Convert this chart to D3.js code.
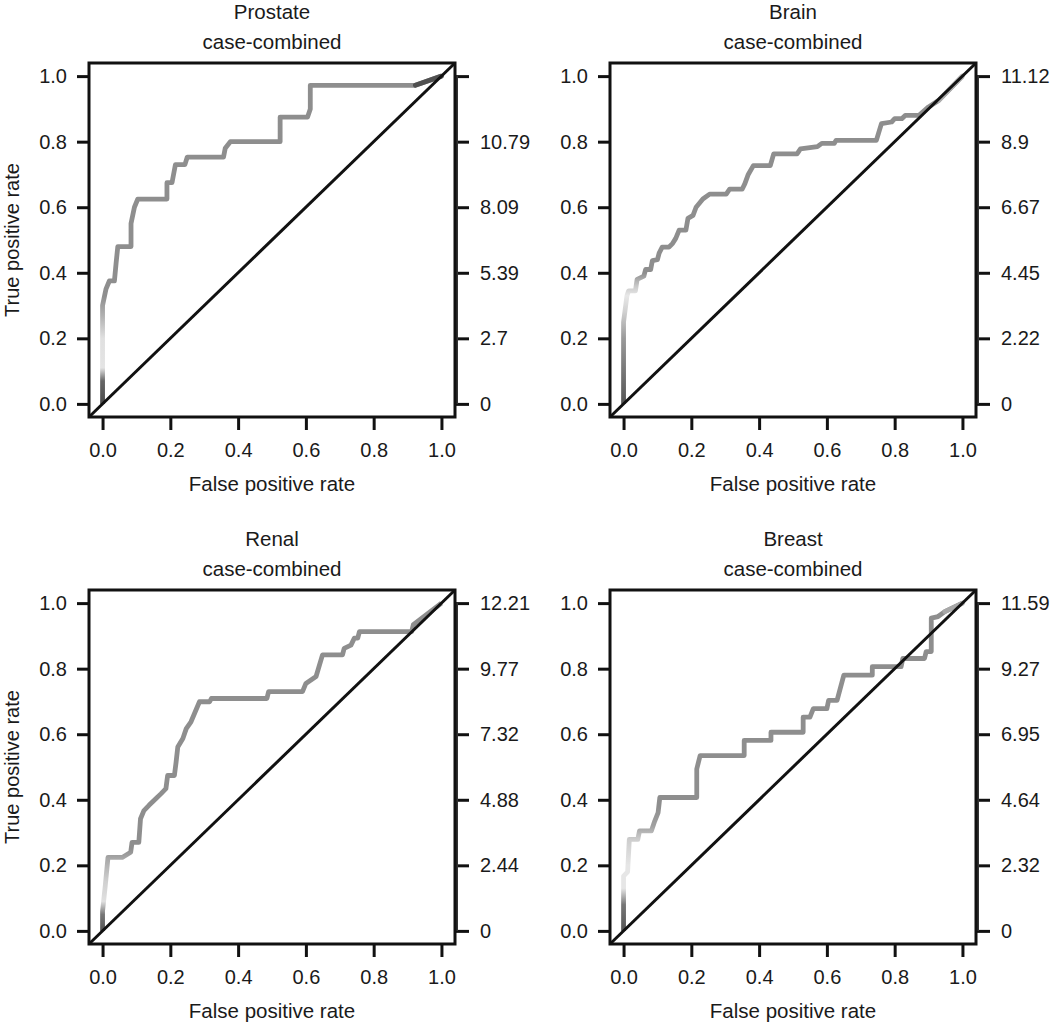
<!DOCTYPE html>
<html><head><meta charset="utf-8">
<script src="https://cdn.jsdelivr.net/npm/d3@7"></script>
<style>
body{margin:0;background:#fff}
svg{display:block}
text{font-family:"Liberation Sans",Arial,Helvetica,sans-serif;fill:#1a1a1a}
</style>
</head><body>
<svg id="chart" width="1050" height="1023"></svg>
<script>
// ---------- data ----------
const panelNames = ["Prostate", "Brain", "Renal", "Breast"];
const subtitle = "case-combined";
const xLabel = "False positive rate";
const yLabel = "True positive rate";
const rateTicks = [0, 0.2, 0.4, 0.6, 0.8, 1.0];

const prostateCutoffLabels = ["0", "2.7", "5.39", "8.09", "10.79", ""];
const brainCutoffLabels    = ["0", "2.22", "4.45", "6.67", "8.9", "11.12"];
const renalCutoffLabels    = ["0", "2.44", "4.88", "7.32", "9.77", "12.21"];
const breastCutoffLabels   = ["0", "2.32", "4.64", "6.95", "9.27", "11.59"];

// [false positive rate, true positive rate]
const prostateROC = [[0,0],[0,0.30],[0.01,0.35],[0.02,0.375],[0.035,0.375],[0.04,0.43],[0.045,0.48],[0.084,0.48],
  [0.084,0.55],[0.094,0.60],[0.104,0.625],[0.19,0.625],[0.19,0.675],[0.205,0.675],[0.215,0.73],[0.243,0.73],
  [0.25,0.753],[0.357,0.753],[0.362,0.78],[0.377,0.80],[0.524,0.80],[0.524,0.875],[0.605,0.875],[0.613,0.90],
  [0.613,0.972],[0.923,0.972],[1,1]];
const brainROC = [[0,0],[0,0.25],[0.01,0.33],[0.015,0.345],[0.035,0.345],[0.04,0.38],[0.06,0.39],[0.065,0.41],
  [0.08,0.41],[0.085,0.437],[0.1,0.44],[0.105,0.46],[0.114,0.478],[0.134,0.478],[0.145,0.49],[0.154,0.505],
  [0.164,0.53],[0.184,0.53],[0.19,0.566],[0.205,0.575],[0.214,0.6],[0.234,0.625],[0.254,0.64],[0.303,0.64],
  [0.313,0.655],[0.35,0.655],[0.358,0.672],[0.368,0.70],[0.383,0.727],[0.433,0.727],[0.443,0.763],[0.512,0.763],
  [0.522,0.778],[0.572,0.785],[0.585,0.795],[0.622,0.795],[0.627,0.804],[0.746,0.804],[0.761,0.855],[0.791,0.86],
  [0.80,0.87],[0.821,0.87],[0.831,0.88],[0.871,0.88],[0.9,0.906],[0.93,0.926],[1,1]];
const renalROC = [[0,0],[0,0.06],[0.008,0.138],[0.016,0.224],[0.058,0.224],[0.083,0.24],[0.087,0.27],[0.107,0.27],
  [0.112,0.342],[0.122,0.367],[0.137,0.383],[0.157,0.403],[0.172,0.418],[0.187,0.434],[0.192,0.474],[0.212,0.474],
  [0.217,0.515],[0.222,0.561],[0.237,0.587],[0.247,0.617],[0.261,0.638],[0.286,0.699],[0.316,0.699],[0.321,0.709],
  [0.485,0.709],[0.49,0.73],[0.59,0.73],[0.6,0.755],[0.63,0.776],[0.649,0.842],[0.708,0.842],[0.713,0.862],
  [0.733,0.872],[0.743,0.893],[0.753,0.893],[0.758,0.913],[0.912,0.913],[0.917,0.934],[1,1]];
const breastROC = [[0,0],[0,0.167],[0.012,0.18],[0.017,0.279],[0.042,0.279],[0.047,0.305],[0.082,0.305],[0.092,0.335],
  [0.102,0.361],[0.107,0.407],[0.216,0.407],[0.216,0.494],[0.226,0.535],[0.356,0.535],[0.356,0.581],[0.435,0.581],
  [0.435,0.606],[0.53,0.606],[0.53,0.652],[0.55,0.652],[0.56,0.678],[0.6,0.678],[0.605,0.703],[0.63,0.703],
  [0.65,0.78],[0.734,0.78],[0.734,0.806],[0.819,0.806],[0.824,0.831],[0.888,0.831],[0.893,0.852],[0.908,0.852],
  [0.908,0.954],[0.928,0.959],[0.948,0.974],[1,1]];

// ---------- layout / style ----------
const W = 366, H = 354;
const panels = [
  {name: panelNames[0], roc: prostateROC, cut: prostateCutoffLabels, left: 89,  top: 63,  ylab: true,
   grad: [[0,"#4a4a4a"],[0.07,"#666"],[0.11,"#e4e4e4"],[0.2,"#e0e0e0"],[0.27,"#b0b0b0"],[0.33,"#8e8e8e"]], tail: "#505050"},
  {name: panelNames[1], roc: brainROC, cut: brainCutoffLabels, left: 610, top: 63, ylab: false,
   grad: [[0,"#555"],[0.1,"#777"],[0.2,"#9a9a9a"],[0.28,"#d0d0d0"],[0.33,"#e8e8e8"],[0.36,"#c8c8c8"],[0.4,"#8e8e8e"]], tail: "#b0b0b0"},
  {name: panelNames[2], roc: renalROC, cut: renalCutoffLabels, left: 89, top: 590, ylab: true,
   grad: [[0,"#555"],[0.05,"#777"],[0.09,"#e0e0e0"],[0.15,"#d0d0d0"],[0.22,"#a8a8a8"],[0.25,"#8e8e8e"]], tail: null},
  {name: panelNames[3], roc: breastROC, cut: breastCutoffLabels, left: 610, top: 590, ylab: false,
   grad: [[0,"#555"],[0.08,"#777"],[0.13,"#e6e6e6"],[0.2,"#e6e6e6"],[0.28,"#cdcdcd"],[0.32,"#a0a0a0"],[0.38,"#8e8e8e"]], tail: "#a8a8a8"}
];

const svg = d3.select("#chart");
svg.append("rect").attr("width", 1050).attr("height", 1023).attr("fill", "#fff");
const defs = svg.append("defs");

panels.forEach((p, i) => {
  const x = d3.scaleLinear().domain([-0.04, 1.04]).range([0, W]);
  const y = d3.scaleLinear().domain([-0.04, 1.04]).range([H, 0]);
  const g = svg.append("g").attr("transform", `translate(${p.left},${p.top})`);

  // gradient for the colorized start of the curve
  const gEnd = p.grad[p.grad.length - 1][0];
  const grad = defs.append("linearGradient").attr("id", "g" + i)
    .attr("gradientUnits", "userSpaceOnUse")
    .attr("x1", x(0)).attr("y1", y(0)).attr("x2", x(0)).attr("y2", y(gEnd));
  p.grad.forEach(s => grad.append("stop").attr("offset", s[0] / gEnd).attr("stop-color", s[1]));

  const line = d3.line().x(d => x(d[0])).y(d => y(d[1]));

  // ROC curve
  g.append("path").datum(p.roc).attr("d", line)
    .attr("fill", "none").attr("stroke", `url(#g${i})`).attr("stroke-width", 4.8)
    .attr("stroke-linejoin", "round").attr("stroke-linecap", "butt");
  if (p.tail) {
    g.append("path").datum(p.roc.slice(-2)).attr("d", line)
      .attr("fill", "none").attr("stroke", p.tail).attr("stroke-width", 4.8).attr("stroke-linecap", "round");
  }

  // diagonal
  g.append("path").datum([[-0.04, -0.04], [1.04, 1.04]]).attr("d", line)
    .attr("fill", "none").attr("stroke", "#111").attr("stroke-width", 3);

  // axes
  const axL = d3.axisLeft(y).tickValues(rateTicks).tickFormat(d3.format(".1f")).tickSize(12).tickPadding(10).tickSizeOuter(0);
  const axB = d3.axisBottom(x).tickValues(rateTicks).tickFormat(d3.format(".1f")).tickSize(13).tickPadding(13).tickSizeOuter(0);
  const axR = d3.axisRight(y).tickValues(rateTicks).tickFormat((d, k) => p.cut[k]).tickSize(14).tickPadding(11).tickSizeOuter(0);

  const gl = g.append("g").call(axL);
  const gb = g.append("g").attr("transform", `translate(0,${H})`).call(axB);
  const gr = g.append("g").attr("transform", `translate(${W},0)`).call(axR);
  [gl, gb, gr].forEach(a => {
    a.select(".domain").remove();
    a.selectAll(".tick line").attr("stroke", "#111").attr("stroke-width", 3);
    a.selectAll(".tick text").attr("font-size", 20).attr("fill", "#1a1a1a")
      .style("font-family", '"Liberation Sans",Arial,sans-serif');
  });

  // right axis line (cutoff scale)
  g.append("line").attr("x1", W + 1.5).attr("x2", W + 1.5).attr("y1", y(0)).attr("y2", y(1))
    .attr("stroke", "#333").attr("stroke-width", 3);

  // box
  g.append("rect").attr("x", 0).attr("y", 0).attr("width", W).attr("height", H)
    .attr("fill", "none").attr("stroke", "#111").attr("stroke-width", 3);

  // titles
  g.append("text").attr("x", W / 2).attr("y", -44).attr("text-anchor", "middle").attr("font-size", 20.5).text(p.name);
  g.append("text").attr("x", W / 2).attr("y", -14).attr("text-anchor", "middle").attr("font-size", 20.5).text(subtitle);
  g.append("text").attr("x", W / 2).attr("y", H + 74).attr("text-anchor", "middle").attr("font-size", 20.5).text(xLabel);
  if (p.ylab) {
    g.append("text").attr("transform", `translate(${19 - p.left},${H / 2}) rotate(-90)`)
      .attr("text-anchor", "middle").attr("font-size", 20).text(yLabel);
  }
});
</script>
</body></html>
